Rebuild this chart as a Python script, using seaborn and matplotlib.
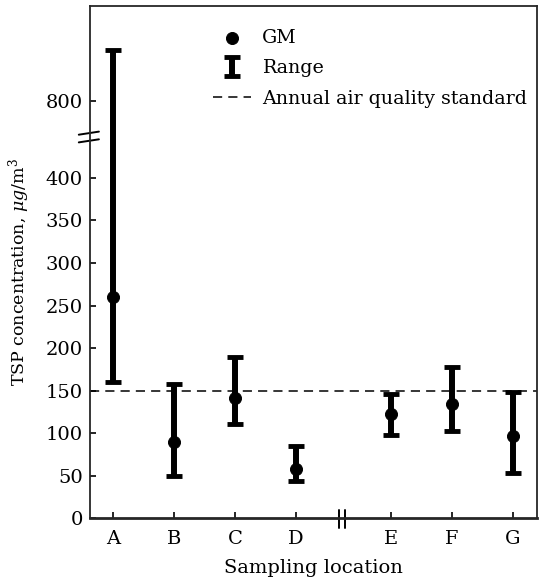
import numpy as np
import pandas as pd
import matplotlib
matplotlib.use("Agg")
import matplotlib.pyplot as plt
import seaborn as sns

# values (ug/m3)
locations = ["A", "B", "C", "D", "E", "F", "G"]
gm = [260, 90, 141, 58, 123, 134, 97]
low = [160, 50, 111, 44, 98, 103, 53]
high = [860, 158, 189, 85, 146, 178, 148]
standard = 150
yticks = [0, 50, 100, 150, 200, 250, 300, 350, 400, 800]

sns.set_style("ticks")
plt.rcParams["font.family"] = ["DejaVu Serif"]
plt.rcParams["mathtext.fontset"] = "dejavuserif"
plt.rcParams["text.color"] = "black"
plt.rcParams["axes.labelcolor"] = "black"
plt.rcParams["xtick.color"] = "black"
plt.rcParams["ytick.color"] = "black"


# broken y axis: squeeze 420..760 into a short stretch
def fwd(v):
    v = np.asarray(v, dtype=float)
    return np.where(v <= 420, v, np.where(v >= 760, v - 310, 420 + (v - 420) * 30 / 340))


def inv(y):
    y = np.asarray(y, dtype=float)
    return np.where(y <= 420, y, np.where(y >= 450, y + 310, 420 + (y - 420) * 340 / 30))


# gap in the x axis between D and E
idx = np.arange(len(locations))
xpos = idx + np.where(idx >= 4, 0.55, 0.0)

df = pd.DataFrame({"loc": locations, "x": xpos, "gm": gm, "low": low, "high": high})

fig = plt.figure(figsize=(5.42, 5.79), dpi=100)
ax = fig.add_axes([0.166, 0.1045, 0.825, 0.885])
ax.set_yscale("function", functions=(fwd, inv))

ax.errorbar(df["x"], df["gm"], yerr=[df["gm"] - df["low"], df["high"] - df["gm"]],
            fmt="none", ecolor="black", elinewidth=4.3, capsize=5.5, capthick=3.5,
            label="Range", zorder=2)
sns.scatterplot(data=df, x="x", y="gm", color="black", s=75, edgecolor="black",
                ax=ax, label="GM", zorder=3)
ax.axhline(standard, color="black", lw=1.1, ls=(0, (6, 4)),
           label="Annual air quality standard", zorder=1)

ax.set_xlim(-0.377, 6.95)
ax.set_ylim(0, float(inv(601.5)))
ax.set_xticks(xpos)
ax.set_xticklabels(locations, fontsize=14)
ax.set_yticks(yticks)
ax.set_yticklabels([str(t) for t in yticks], fontsize=14)
ax.tick_params(direction="in", length=4, width=1.2, pad=5)
ax.tick_params(axis="x", pad=8.5)
ax.set_xlabel("Sampling location", fontsize=14, labelpad=8)
ax.set_ylabel(r"TSP concentration, $\mu g$/m$^3$", fontsize=12.5)
ax.yaxis.set_label_coords(-0.130, 0.481)

for side in ["left", "right", "top"]:
    ax.spines[side].set_linewidth(1.3)
ax.spines["bottom"].set_linewidth(2.0)

# break marks
for yy in [0.737, 0.752]:
    ax.plot([-0.025, 0.02], [yy - 0.003, yy + 0.003], color="black", lw=1.4,
            transform=ax.transAxes, clip_on=False)
xbreak = ax.get_xaxis_transform()
for xx in [3.71, 3.80]:
    ax.plot([xx, xx], [-0.018, 0.017], color="black", lw=1.4,
            transform=xbreak, clip_on=False)

handles, labels = ax.get_legend_handles_labels()
order = ["GM", "Range", "Annual air quality standard"]
hmap = dict(zip(labels, handles))
ax.legend([hmap[k] for k in order], order, loc="upper left",
          bbox_to_anchor=(0.257, 0.971), frameon=False, fontsize=13.7,
          handlelength=2.0, handletextpad=0.6, labelspacing=0.66, borderaxespad=0)

fig.savefig("out.png", dpi=100)
